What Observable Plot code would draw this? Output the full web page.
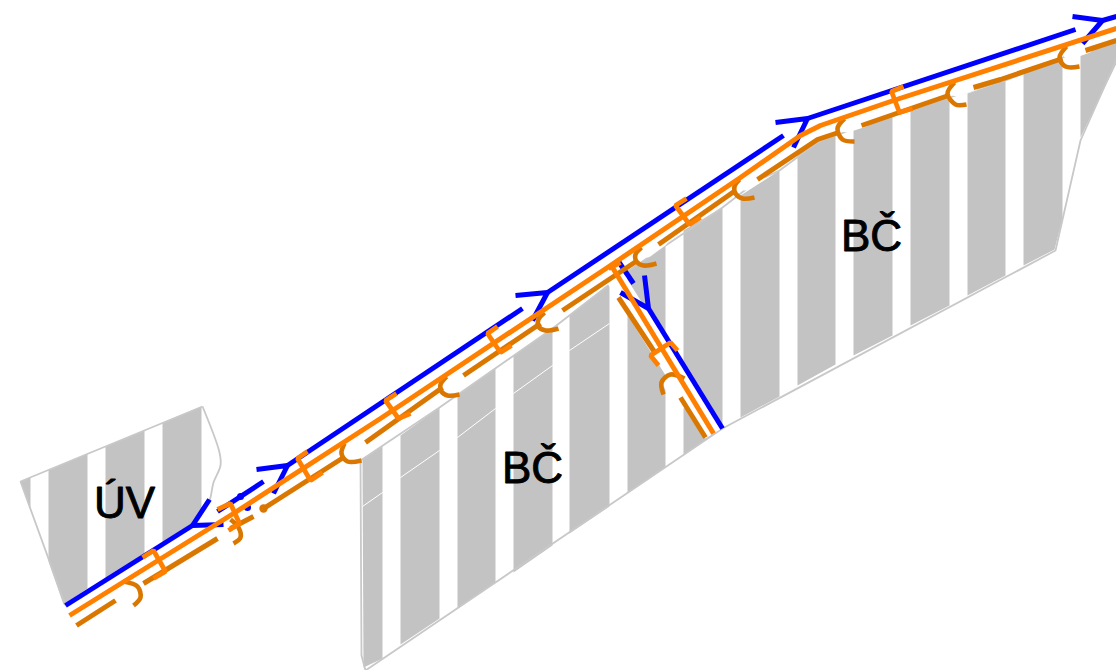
<!DOCTYPE html>
<html>
<head>
<meta charset="utf-8">
<style>html,body{margin:0;padding:0;background:#fff;overflow:hidden}svg{display:block}</style>
<script src="https://cdn.jsdelivr.net/npm/d3@7"></script>
<script src="https://cdn.jsdelivr.net/npm/@observablehq/plot@0.6"></script>
</head>
<body>
<script>
// Gray strips of the land parcels (outline vertices)
const stripesBC = [
  [[362,459],[382,445],[382,658],[363,667]],
  [[400,435],[439,407],[439,618],[400,644]],
  [[457,395],[495,367],[495,582],[457,608]],
  [[513,355],[552,328],[552,545],[513,572]],
  [[569,315],[609,283],[609,506],[569,533]],
  [[627,270],[665,245],[665,467],[627,493]],
  [[683,230],[722,207],[722,428],[683,455]],
  [[740,195],[779,170],[779,396],[740,417]],
  [[797,155],[817,140],[835,135],[835,364],[797,385]],
  [[853,127],[892,115],[892,335],[853,355]],
  [[910,110],[949,97],[949,305],[910,325]],
  [[967,93],[1005,80],[1005,275],[967,295]],
  [[1023,72],[1062,57],[1062,218],[1054,249],[1023,265]],
  [[1080,52],[1116,40],[1116,63],[1080,137]]
];
const stripesUV = [
  [[20,481],[30,477],[30,510]],
  [[48,470],[87,453],[87,588],[63,604],[48,561]],
  [[105,446],[144,430],[144,555],[105,580]],
  [[162,422],[201,406],[201,515],[192,525],[162,544]]
];
const innerWhite = [[362,506],[382,492],[400,477],[439,450],[457,437],[495,408],[513,393],[552,365],[569,350],[609,323]];
const boundaries = [
  [[360,460],[439,407],[552,328],[609,284],[665,245],[722,207],[757,180],[779,170],[817,142],[835,135],[892,115],[949,97],[1005,80],[1062,57],[1116,40]],
  [[360,460],[361,655],[365,670],[722,428],[1055,250],[1080,140],[1116,59]],
  [[202,406],[20,481],[65,605]]
];
const uvEdge = [[202,406],[219,452],[220,465],[213,482],[210,497],[208,503]];
const branchBand = [[610,270],[713,433]];
const pills = [
  [[351,449],[366,438]],[[449,380],[464,370]],[[547,314],[562,304]],[[646,250],[661,239]],
  [[744,183],[759,173]],[[846,125],[862,120]],[[956,89],[973,83]],[[1069,52],[1086,46]],[[670,384],[682,401]]
];
const blueLines = [
  [[65,605],[192,525]],[[209,499],[192,525],[223,524]],[[217,511],[263,481]],
  [[256,469],[287,465],[273,493]],[[287,465],[522,308]],
  [[515,295],[547,292],[532,320]],[[547,292],[783,135]],
  [[775,122],[807,118],[793,147]],[[807,118],[1075,29]],
  [[1072,16],[1102,20],[1082,43]],[[1102,20],[1116,16]],
  [[618,261],[633,283]],[[620,292],[648,308],[644,275]],[[648,308],[722,428]]
];
const blueDots = [[240,496],[247,507]];
const orangeLines = [
  [[69,615],[233,513],[380,418],[607,267],[740,177],[800,135],[820,125],[893,100],[1116,28]],
  [[612,267],[713,433]]
];
const orangeTicks = [
  [[142,557],[153,550],[165,571],[153,578]],
  [[217,509],[230,503],[239,523],[228,530]],
  [[307,451],[297,458],[310,480],[322,472]],
  [[396,393],[385,400],[398,418],[410,413]],
  [[497,326],[487,333],[500,352],[511,345]],
  [[686,198],[675,205],[689,224],[700,217]],
  [[903,86],[891,91],[899,112],[912,108]],
  [[608,268],[620,262]],
  [[658,365],[650,355],[670,342],[677,350]]
];
const darkLines = [
  [[76,625],[115,600]],[[143,583],[217,538]],[[230,528],[253,516]],[[263,508],[343,457]],
  [[365,442],[442,387]],[[463,375],[540,323]],[[562,310],[637,260]],[[658,244],[735,190]],
  [[757,179],[817,139],[838,132]],[[861,125],[948,95]],[[973,87],[1000,79],[1062,58]],[[1085,50],[1116,40]],
  [[618,297],[655,353]],[[680,397],[705,437]]
];
const darkArcs = [
  [[123,581],[137,586],[140,597],[133,605]],
  [[230,519],[238,527],[240,537],[233,543]],
  [[344,443],[341,453],[347,461],[361,460]],
  [[446,376],[440,384],[441,391],[447,395],[459,394]],
  [[544,312],[538,319],[538,326],[545,330],[558,328]],
  [[641,247],[635,254],[636,261],[643,265],[656,263]],
  [[739,179],[734,186],[735,193],[742,198],[754,197]],
  [[844,118],[837,128],[842,139],[854,141]],
  [[954,82],[947,93],[955,104],[966,104]],
  [[1066,46],[1059,57],[1065,66],[1079,66]],
  [[684,378],[670,374],[661,382],[663,394]]
];
const darkDots = [[263,508]];
const labels = ["ÚV","BČ","BČ"];
const labelX = [125,533,872];
const labelY = [503,468,236];

const GRAY = "#c3c3c3", EDGE = "#c8c8c8", BLUE = "#0000ff", ORANGE = "#ff8000", DARK = "#da7700";
const rows = (paths) => paths.flatMap((p, i) => p.map(([x, y]) => ({x, y, i})));
const pts = (list) => list.map(([x, y]) => ({x, y}));
const path = (paths, o) => Plot.line(rows(paths), {x: "x", y: "y", z: "i", strokeLinecap: "butt", strokeLinejoin: "miter", ...o});

const chart = Plot.plot({
  width: 1116,
  height: 670,
  margin: 0,
  x: {domain: [0, 1116], range: [0, 1116], axis: null},
  y: {domain: [0, 670], range: [0, 670], axis: null},
  style: {background: "#fff", fontFamily: "'Liberation Sans', Arial, sans-serif"},
  marks: [
    path(stripesBC.concat(stripesUV), {fill: GRAY, stroke: "none"}),
    path([innerWhite], {stroke: "#fff", strokeWidth: 1}),
    path(boundaries, {stroke: EDGE, strokeWidth: 1.8}),
    path([uvEdge], {stroke: EDGE, strokeWidth: 1.8, curve: "catmull-rom"}),
    path([branchBand], {stroke: "#fff", strokeWidth: 19}),
    path(pills, {stroke: "#fff", strokeWidth: 14, strokeLinecap: "round"}),
    Plot.dot(pts(blueDots), {x: "x", y: "y", r: 3.5, fill: BLUE}),
    path(blueLines, {stroke: BLUE, strokeWidth: 5}),
    path(darkLines, {stroke: DARK, strokeWidth: 5}),
    path(darkArcs, {stroke: DARK, strokeWidth: 4.6, curve: "catmull-rom"}),
    Plot.dot(pts(darkDots), {x: "x", y: "y", r: 4.2, fill: DARK}),
    path(orangeLines, {stroke: ORANGE, strokeWidth: 5, strokeLinejoin: "round"}),
    path(orangeTicks, {stroke: ORANGE, strokeWidth: 4.8}),
    Plot.text(labels, {x: (d, i) => labelX[i], y: (d, i) => labelY[i], text: d => d, fontSize: 44, fill: "#000", stroke: "#000", strokeWidth: 0.9, textAnchor: "middle", dx: -1})
  ]
});
document.body.appendChild(chart);
</script>
</body>
</html>
